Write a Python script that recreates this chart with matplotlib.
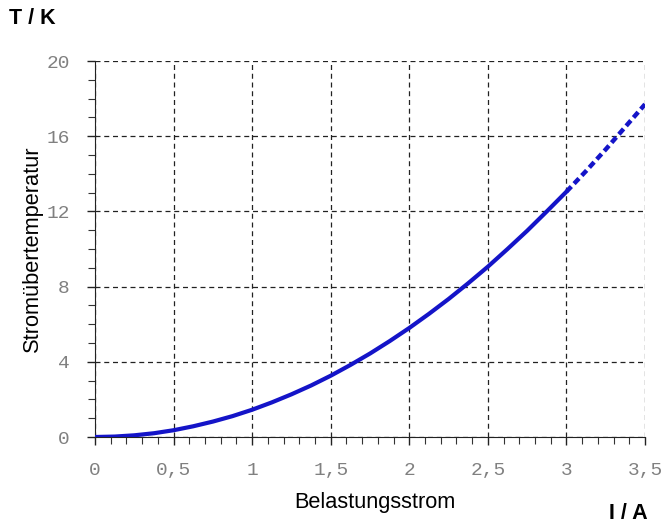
import numpy as np
import matplotlib.pyplot as plt
from matplotlib.ticker import MultipleLocator, FuncFormatter

# Belastungsstrom I in A und Stromuebertemperatur T in K
strom = [0, 0.125, 0.25, 0.375, 0.5, 0.625, 0.75, 0.875, 1.0, 1.125, 1.25, 1.375,
         1.5, 1.625, 1.75, 1.875, 2.0, 2.125, 2.25, 2.375, 2.5, 2.625, 2.75, 2.875, 3.0]
temp = [0, 0.023, 0.09, 0.2, 0.36, 0.57, 0.82, 1.11, 1.45, 1.84, 2.27, 2.74,
        3.26, 3.83, 4.44, 5.1, 5.8, 6.55, 7.34, 8.18, 9.06, 10.0, 10.97, 12.0, 13.05]
# letzter Abschnitt gestrichelt
strom_end = [3.0, 3.125, 3.25, 3.375, 3.5]
temp_end = [13.05, 14.15, 15.3, 16.5, 17.7]

x_ticks = [0, 0.5, 1, 1.5, 2, 2.5, 3, 3.5]
y_ticks = [0, 4, 8, 12, 16, 20]

fig = plt.figure(figsize=(6.68, 5.26), dpi=100)
ax = fig.add_axes([0.1422, 0.1692, 0.8234, 0.7148])

blau = '#1414c8'
ax.plot(strom, temp, color=blau, lw=3, solid_capstyle='round', solid_joinstyle='round', zorder=3)
ax.plot(strom_end, temp_end, color=blau, lw=3.2, ls=(0, (1.6, 0.9)), zorder=3)

ax.set_xlim(0, 3.5)
ax.set_ylim(0, 20)
ax.set_xticks(x_ticks)
ax.set_yticks(y_ticks)
ax.xaxis.set_minor_locator(MultipleLocator(0.1))
ax.yaxis.set_minor_locator(MultipleLocator(1))

fmt = FuncFormatter(lambda v, p: ('%g' % v).replace('.', ','))
ax.xaxis.set_major_formatter(fmt)
ax.yaxis.set_major_formatter(fmt)

ax.grid(True, which='major', color='#222222', ls=(0, (4, 3)), lw=0.9)
for s in ['top', 'right']:
    ax.spines[s].set_visible(False)
ax.spines['left'].set_color('#222222')
ax.spines['bottom'].set_color('#222222')

ax.tick_params(which='major', direction='out', length=6, width=1, color='#222222',
               labelsize=14, labelcolor='#808080')
ax.tick_params(axis='x', which='major', pad=12)
ax.tick_params(axis='y', which='major', pad=12)
ax.tick_params(which='minor', direction='out', length=5, width=0.8, color='#333333')
for lab in ax.get_xticklabels() + ax.get_yticklabels():
    lab.set_family('Liberation Mono')

fig.text(0.013, 0.964, 'T / K', fontsize=15.5, fontweight='bold', family='Liberation Sans',
         ha='left', va='center')
fig.text(0.969, 0.024, 'I / A', fontsize=15.5, fontweight='bold', family='Liberation Sans',
         ha='right', va='center')
fig.text(0.561, 0.045, 'Belastungsstrom', fontsize=15.7, family='Liberation Sans',
         ha='center', va='center')
fig.text(0.048, 0.528, 'Stromübertemperatur', fontsize=15.7, family='Liberation Sans',
         ha='center', va='center', rotation=90)

fig.savefig('out.png', dpi=100)
